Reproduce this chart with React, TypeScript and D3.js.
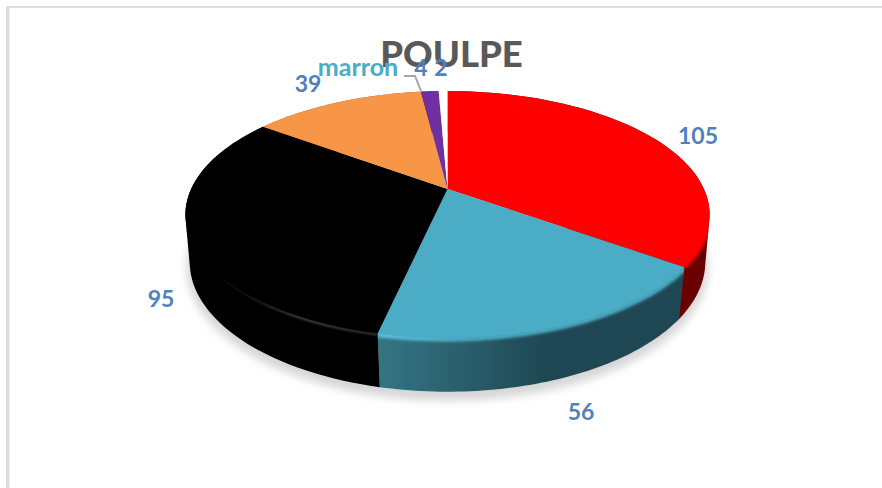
import React from "react";
import * as d3 from "d3";

const W = 882, H = 488;
const categories = ["rouge", "bleu", "noir", "orange", "marron", "blanc"];
const values = [105, 56, 95, 39, 4, 2];
const colors = ["#FF0000", "#4BACC6", "#000000", "#F79646", "#7030A0", "#FFFFFF"];
const labels = ["105", "56", "95", "39", "marron 4", "2"];

const CX = 447.5;
// perspective projection of the unit disc
const topDisc = { cy: 189, a: 118.2, b: 256.4, k: -0.2065 };
const botDisc = { cy: 237, a: 125, b: 253, k: -0.192 };
type Disc = typeof topDisc;

const project = (d: Disc, t: number): [number, number] => {
  const X = Math.sin(t), Y = -Math.cos(t), den = 1 + d.k * Y;
  return [CX + (d.b * X) / den, d.cy + (d.a * Y) / den];
};
const arcs = d3.pie<number>().sort(null)(values);
const rim = (d: Disc, a0: number, a1: number) =>
  d3.range(0, 61).map((i) => project(d, d3.interpolateNumber(a0, a1)(i / 60)));
const line = d3.line();
const rad = (deg: number) => (deg * Math.PI) / 180;
// the wall of a slice: hull of both rims (its inner part is hidden by the top face)
const sidePath = (a: { startAngle: number; endAngle: number }) =>
  line(d3.polygonHull([...rim(topDisc, a.startAngle, a.endAngle), ...rim(botDisc, a.startAngle, a.endAngle)])!)! + "Z";

export default function App() {
  const full = line(rim(botDisc, 0, 2 * Math.PI))! + "Z";
  return (
    <svg width={W} height={H} style={{ position: "absolute", left: 0, top: 0, background: "#fff" }}>
      <defs>
        <filter id="sh" x="-20%" y="-20%" width="140%" height="140%">
          <feGaussianBlur stdDeviation="4.5" />
        </filter>
        <filter id="bev" x="-20%" y="-20%" width="140%" height="140%">
          <feGaussianBlur stdDeviation="1.5" />
        </filter>
        <filter id="bevThin" x="-20%" y="-20%" width="140%" height="140%">
          <feGaussianBlur stdDeviation="0.9" />
        </filter>
        <linearGradient id="sideTeal" gradientUnits="userSpaceOnUse" x1="380" x2="545" y1="0" y2="0">
          <stop offset="0" stopColor="#347584" />
          <stop offset="1" stopColor="#1F4753" />
        </linearGradient>
        <linearGradient id="bevBlack" gradientUnits="userSpaceOnUse" x1="215" x2="380" y1="0" y2="0">
          <stop offset="0" stopColor="#000" />
          <stop offset="0.55" stopColor="#5A5A5A" />
          <stop offset="1" stopColor="#444444" />
        </linearGradient>
        <linearGradient id="bevTeal" gradientUnits="userSpaceOnUse" x1="380" x2="470" y1="0" y2="0">
          <stop offset="0" stopColor="#5CC4E0" />
          <stop offset="1" stopColor="#4BACC6" />
        </linearGradient>
        {arcs.map((a, i) => (
          <clipPath key={categories[i]} id={`side${i}`}>
            <path d={sidePath(a)} />
          </clipPath>
        ))}
      </defs>
      <rect x={6} y={6} width={W} height={2} fill="#DEDEDE" />
      <rect x={6} y={6} width={3.5} height={H} fill="#DEDEDE" />

      <path d={full} transform="translate(0,6)" fill="#D6D6D6" stroke="#D6D6D6" strokeWidth={6} filter="url(#sh)" />

      {arcs.map((a, i) => {
        const fill = i === 0 ? "#6B0000" : i === 1 ? "url(#sideTeal)" : i === 2 ? "#000" : d3.color(colors[i])!.darker(1.5).toString();
        return <path key={categories[i]} d={sidePath(a)} fill={fill} />;
      })}

      <g clipPath="url(#side0)">
        <path d={line(rim(topDisc, rad(92), arcs[0].endAngle))!} fill="none" stroke="#FF0000" strokeWidth={4} filter="url(#bev)" />
      </g>
      <g clipPath="url(#side2)">
        <path d={line(rim(topDisc, arcs[2].startAngle, rad(262)))!} fill="none" stroke="url(#bevBlack)" strokeWidth={1.8} transform="translate(0,1)" filter="url(#bevThin)" />
      </g>
      <g clipPath="url(#side1)">
        <path d={line(rim(topDisc, arcs[1].startAngle, arcs[1].endAngle))!} fill="none" stroke="url(#bevTeal)" strokeWidth={5} transform="translate(0,1)" filter="url(#bev)" />
      </g>

      {arcs.map((a, i) => (
        <path
          key={categories[i]}
          d={line([[CX, topDisc.cy], ...rim(topDisc, a.startAngle, a.endAngle)])! + "Z"}
          fill={colors[i]}
        />
      ))}

      <text x={451.5} y={67} textAnchor="middle" fontFamily="Lato" fontWeight={900} fontSize={36.5} fill="#595959">POULPE</text>
      <path d="M404 76H415L421 91" fill="none" stroke="#A6A6A6" strokeWidth={2} />
      <g fontFamily="Lato" fontWeight={700} fontSize={23} fill="#4F81BD" textAnchor="middle">
        <text x={698} y={144}>{labels[0]}</text>
        <text x={581} y={420}>{labels[1]}</text>
        <text x={161} y={307}>{labels[2]}</text>
        <text x={308} y={92}>{labels[3]}</text>
        <text x={358} y={76} fontSize={25} fill="#4BACC6">{labels[4].split(" ")[0]}</text>
        <text x={421} y={76}>{labels[4].split(" ")[1]}</text>
        <text x={441} y={76}>{labels[5]}</text>
      </g>
    </svg>
  );
}
